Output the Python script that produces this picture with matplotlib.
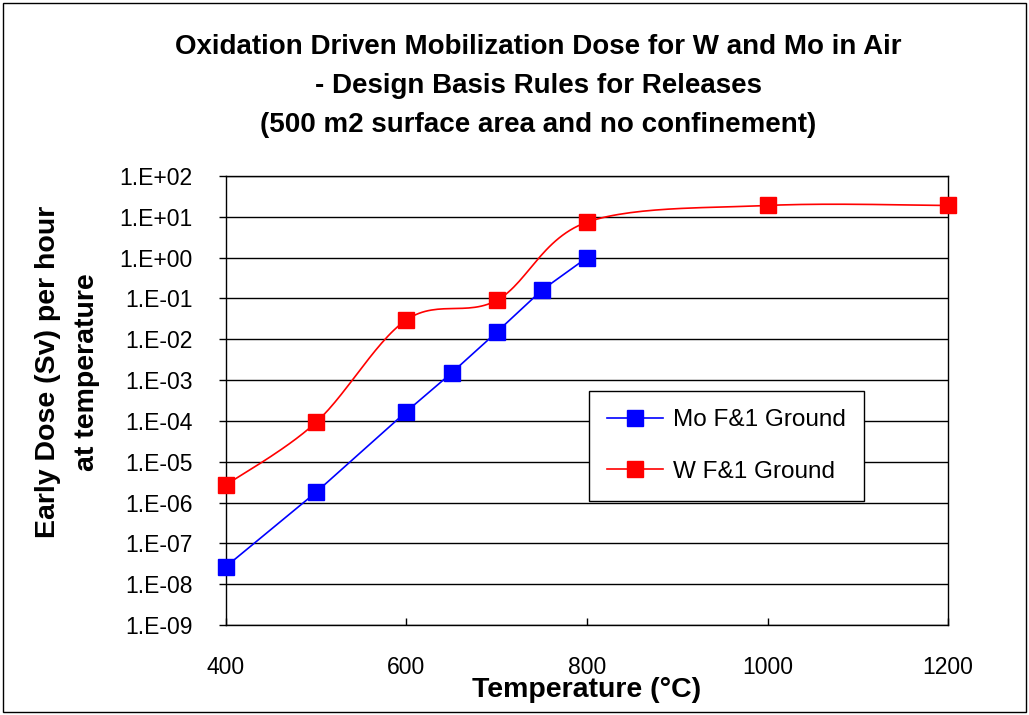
import numpy as np
import matplotlib
matplotlib.use("Agg")
import matplotlib.pyplot as plt

plt.rcParams['font.family'] = ['Liberation Sans', 'DejaVu Sans']

# Mo F&1 Ground
mo_temp = [400, 500, 600, 650, 700, 750, 800]
mo_dose = [2.7e-8, 1.8e-6, 1.7e-4, 1.5e-3, 1.5e-2, 0.16, 1.0]

# W F&1 Ground (drawn as smoothed line)
w_temp = [400, 500, 600, 700, 800, 1000, 1200]
w_dose = [2.7e-6, 9.3e-5, 0.03, 0.09, 7.4, 19.0, 19.0]

y_ticks = [1e-9, 1e-8, 1e-7, 1e-6, 1e-5, 1e-4, 1e-3, 1e-2, 1e-1, 1e0, 1e1, 1e2]
y_tick_labels = ["1.E-09", "1.E-08", "1.E-07", "1.E-06", "1.E-05", "1.E-04",
                 "1.E-03", "1.E-02", "1.E-01", "1.E+00", "1.E+01", "1.E+02"]
x_ticks = [400, 600, 800, 1000, 1200]


def smooth(xs, ys, n=30):
    """Catmull-Rom curve through points in (x, log10 y) space, like Excel's smoothed line"""
    px = np.array(xs, dtype=float) / 100.0
    py = np.log10(ys) / 2.2
    pts = np.column_stack([px, py])
    pts = np.vstack([pts[0], pts, pts[-1]])
    out = []
    for i in range(1, len(pts) - 2):
        p0, p1, p2, p3 = pts[i - 1], pts[i], pts[i + 1], pts[i + 2]
        t = np.linspace(0, 1, n)[:, None]
        seg = 0.5 * ((2 * p1) + (-p0 + p2) * t + (2 * p0 - 5 * p1 + 4 * p2 - p3) * t ** 2
                     + (-p0 + 3 * p1 - 3 * p2 + p3) * t ** 3)
        out.append(seg)
    c = np.vstack(out)
    return c[:, 0] * 100.0, 10 ** (c[:, 1] * 2.2)


fig = plt.figure(figsize=(10.29, 7.15), dpi=100)
fig.patches.append(plt.Rectangle((0.003, 0.004), 0.994, 0.992, transform=fig.transFigure,
                                 fill=False, edgecolor='black', linewidth=1.0))
ax = fig.add_axes([0.2196, 0.1259, 0.7017, 0.6279])

ax.set_yscale('log')
ax.set_ylim(1e-9, 1e2)
ax.set_xlim(400, 1200)

for yv in y_ticks:
    ax.axhline(yv, color='black', linewidth=1.0, zorder=1)

ax.plot(mo_temp, mo_dose, color='#0000ff', linewidth=1.2, zorder=3)
ax.plot(mo_temp, mo_dose, linestyle='none', marker='s', markersize=11.5,
        color='#0000ff', zorder=4, clip_on=False)
sx, sy = smooth(w_temp, w_dose)
ax.plot(sx, sy, color='#ff0000', linewidth=1.2, zorder=3)
ax.plot(w_temp, w_dose, linestyle='none', marker='s', markersize=11.5,
        color='#ff0000', zorder=4, clip_on=False)

# legend proxies
h1, = ax.plot([], [], color='#0000ff', linewidth=1.2, marker='s', markersize=11.5)
h2, = ax.plot([], [], color='#ff0000', linewidth=1.2, marker='s', markersize=11.5)
leg = ax.legend([h1, h2], ["Mo F&1 Ground", "W F&1 Ground"],
                loc='upper left', bbox_to_anchor=(0.503, 0.521), fontsize=17.5,
                frameon=True, fancybox=False, edgecolor='black', framealpha=1,
                handlelength=2.3, labelspacing=1.2, borderpad=0.75, handletextpad=0.4,
                borderaxespad=0)
leg.get_frame().set_linewidth(1.0)

ax.set_yticks(y_ticks)
ax.set_yticklabels(y_tick_labels, fontsize=16.5)
ax.yaxis.set_minor_locator(matplotlib.ticker.NullLocator())
ax.set_xticks(x_ticks)
ax.set_xticklabels([str(v) for v in x_ticks], fontsize=16.5)
ax.tick_params(axis='y', direction='out', length=5, width=1, pad=19)
ax.tick_params(axis='x', direction='in', length=5, width=1, pad=22)

for s in ax.spines.values():
    s.set_linewidth(1.0)
    s.set_color('black')

ax.set_xlabel("Temperature (°C)", fontsize=20.5, fontweight='bold', labelpad=0)
ax.xaxis.set_label_coords(0.50, -0.116)
fig.text(0.0655, 0.48, "Early Dose (Sv) per hour\nat temperature", rotation=90,
         ha='center', va='center', fontsize=20.5, fontweight='bold', linespacing=1.62)

fig.text(0.523, 0.880, "Oxidation Driven Mobilization Dose for W and Mo in Air\n"
         "- Design Basis Rules for Releases\n(500 m2 surface area and no confinement)",
         ha='center', va='center', fontsize=20, fontweight='bold', linespacing=1.64)

fig.savefig("out.png", dpi=100)
